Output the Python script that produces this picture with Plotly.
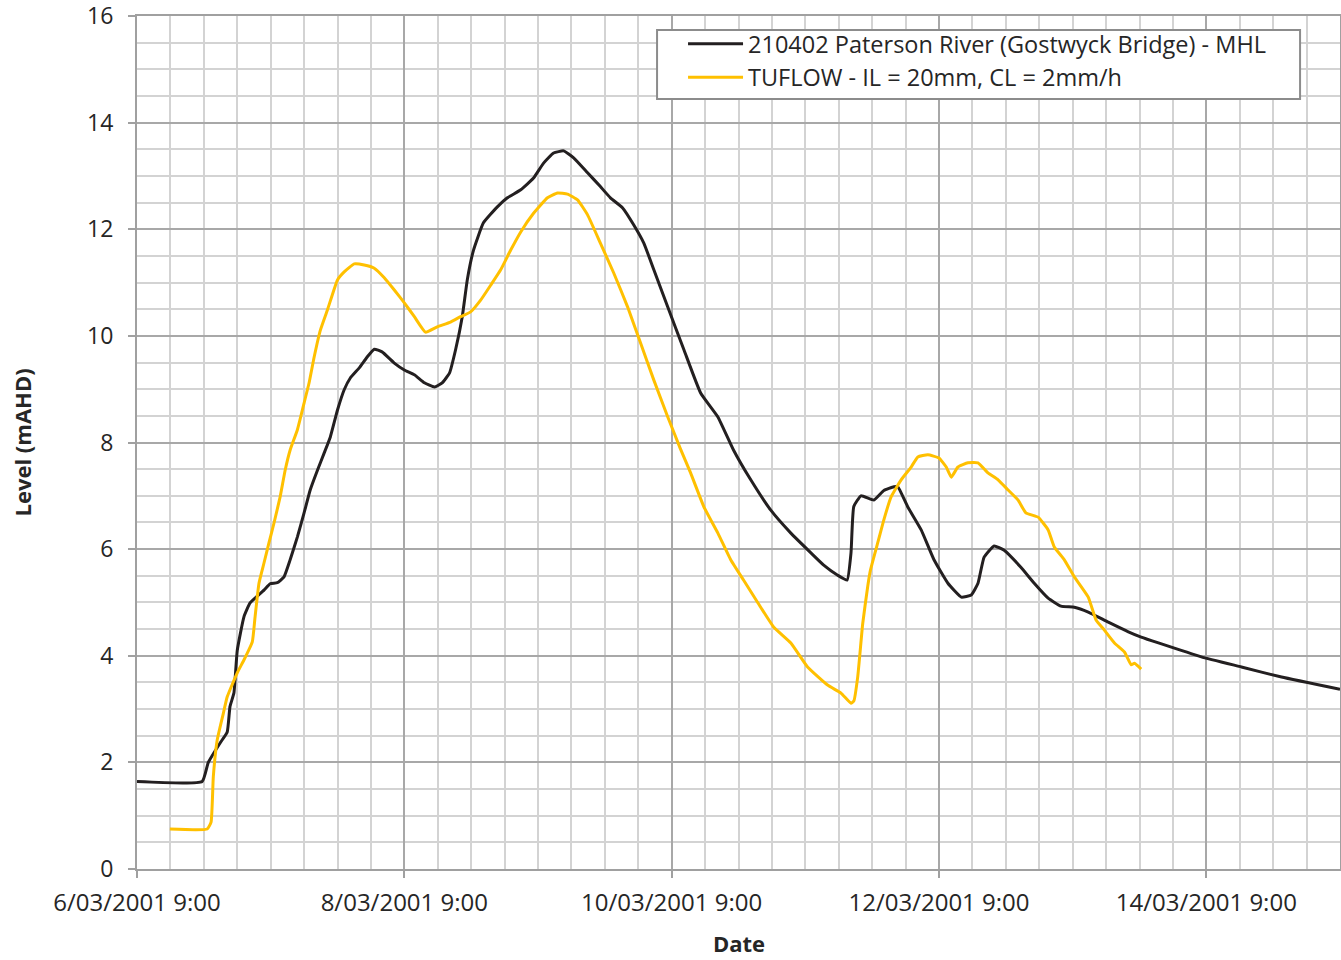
import pandas as pd
import plotly.graph_objects as go

START = pd.Timestamp("2001-03-06 09:00")
END = pd.Timestamp("2001-03-15 09:00")

# Observed gauge: hours after 6/03/2001 9:00, level (mAHD)
obs_hours = [0, 11.7, 12.8, 14.9, 16.2, 16.7, 17.4, 18.0, 19.2, 20.3, 22.8, 23.9, 25.2,
             26.4, 27.5, 28.8, 30.0, 31.1, 32.4, 33.6, 34.7, 36.0, 37.2, 38.3, 39.9,
             41.3, 42.6, 44.0, 46.2, 48.0, 49.8, 51.6, 53.4, 54.8, 56.1, 57.2, 58.4,
             59.3, 60.4, 62.2, 64.7, 66.5, 68.9, 71.2, 73.0, 74.8, 76.6, 78.4, 80.9,
             83.2, 85.0, 87.2, 89.2, 91.0, 92.8, 95.3, 98.2, 101.2, 104.3, 107.1,
             110.2, 113.8, 117.4, 121.0, 123.3, 125.8, 127.5, 128.2, 128.7, 130.0,
             132.3, 134.1, 135.9, 136.6, 138.4, 140.8, 143.1, 145.6, 148.0, 149.8,
             151.0, 152.1, 153.9, 155.7, 158.7, 161.1, 163.6, 165.9, 168.3, 170.8,
             174.4, 178.0, 180.3, 183.4, 191.1, 198.3, 205.5, 216.0]
obs_level = [1.64, 1.64, 2.0, 2.36, 2.57, 3.05, 3.3, 4.1, 4.73, 4.99, 5.23, 5.35, 5.37,
             5.48, 5.8, 6.23, 6.68, 7.11, 7.48, 7.8, 8.1, 8.61, 8.99, 9.21, 9.4,
             9.6, 9.75, 9.7, 9.49, 9.36, 9.27, 9.12, 9.04, 9.12, 9.3, 9.74, 10.36,
             11.05, 11.6, 12.12, 12.42, 12.59, 12.74, 12.96, 13.24, 13.43, 13.47, 13.34, 13.06,
             12.8, 12.59, 12.4, 12.08, 11.74, 11.24, 10.54, 9.74, 8.93, 8.48, 7.86,
             7.3, 6.73, 6.3, 5.93, 5.7, 5.51, 5.42, 5.93, 6.8, 7.0,
             6.92, 7.1, 7.17, 7.17, 6.79, 6.36, 5.8, 5.36, 5.1, 5.14,
             5.36, 5.85, 6.06, 5.98, 5.66, 5.36, 5.08, 4.93, 4.91, 4.82,
             4.63, 4.45, 4.35, 4.24, 3.98, 3.79, 3.6, 3.37]

# TUFLOW model: hours after 6/03/2001 9:00, level (mAHD)
sim_hours = [5.9, 12.6, 13.3, 13.7, 14.4, 15.5, 16.2, 18.0, 19.2, 20.7, 21.2, 21.9, 22.8,
             23.7, 24.6, 25.7, 26.6, 27.5, 28.8, 30.0, 30.9, 31.8, 32.9, 34.2, 36.0,
             37.2, 39.0, 40.8, 42.6, 44.4, 46.2, 48.0, 49.8, 51.8, 53.9, 56.3, 58.1,
             59.9, 61.7, 63.5, 65.3, 67.1, 68.9, 71.2, 73.7, 75.5, 77.3, 79.1, 80.9,
             83.2, 85.6, 88.1, 90.4, 92.8, 95.3, 97.5, 99.4, 101.8, 104.3, 106.6, 108.9,
             111.5, 114.3, 117.4, 120.4, 124.0, 126.4, 128.2, 128.7, 129.4, 130.3,
             131.2, 131.7, 133.0, 134.1, 135.4, 137.2, 139.0, 140.2, 142.0, 144.0,
             145.3, 146.2, 147.4, 149.2, 151.0, 152.8, 154.6, 156.4, 158.2, 159.6,
             161.8, 163.6, 164.7, 166.5, 168.3, 170.8, 172.2, 173.7, 175.5, 177.3,
             178.5, 179.1, 180.3]
sim_level = [0.75, 0.75, 0.88, 1.73, 2.42, 2.92, 3.23, 3.68, 3.92, 4.26, 4.73, 5.36, 5.74,
             6.12, 6.49, 6.98, 7.48, 7.86, 8.24, 8.74, 9.12, 9.6, 10.1, 10.49, 11.05,
             11.2, 11.35, 11.33, 11.27, 11.09, 10.86, 10.62, 10.36, 10.07, 10.17, 10.26, 10.36,
             10.45, 10.67, 10.95, 11.24, 11.61, 11.95, 12.3, 12.59, 12.68, 12.66, 12.55, 12.27,
             11.74, 11.18, 10.54, 9.87, 9.17, 8.48, 7.9, 7.43, 6.79, 6.3, 5.8, 5.42,
             4.99, 4.54, 4.24, 3.79, 3.45, 3.3, 3.11, 3.15, 3.6, 4.6,
             5.3, 5.61, 6.12, 6.55, 6.98, 7.3, 7.54, 7.73, 7.77, 7.71,
             7.54, 7.35, 7.54, 7.62, 7.62, 7.43, 7.3, 7.11, 6.92, 6.68,
             6.6, 6.36, 6.04, 5.8, 5.48, 5.1, 4.67, 4.48, 4.24, 4.07,
             3.83, 3.86, 3.75]

x_tick_vals = ["2001-03-06 09:00", "2001-03-08 09:00", "2001-03-10 09:00",
               "2001-03-12 09:00", "2001-03-14 09:00"]
x_tick_text = ["6/03/2001 9:00", "8/03/2001 9:00", "10/03/2001 9:00",
               "12/03/2001 9:00", "14/03/2001 9:00"]
y_tick_vals = [0, 2, 4, 6, 8, 10, 12, 14, 16]

obs_names = "210402 Paterson River (Gostwyck Bridge) - MHL"
sim_names = "TUFLOW - IL = 20mm, CL = 2mm/h"

obs_t = START + pd.to_timedelta(obs_hours, unit="h")
sim_t = START + pd.to_timedelta(sim_hours, unit="h")

FONT = "Open Sans, Noto Sans, sans-serif"
TXT = "#262626"

fig = go.Figure()
fig.add_trace(go.Scatter(x=obs_t, y=obs_level, mode="lines", name=obs_names,
                         line=dict(color="#231f20", width=3, shape="spline", smoothing=0.4)))
fig.add_trace(go.Scatter(x=sim_t, y=sim_level, mode="lines", name=sim_names,
                         line=dict(color="#FFC000", width=3, shape="spline", smoothing=0.4)))

fig.update_layout(
    width=1341, height=960,
    margin=dict(l=137, r=1, t=16, b=91, autoexpand=False),
    paper_bgcolor="white", plot_bgcolor="white",
    font=dict(family=FONT, size=24, color=TXT),
    showlegend=True,
    legend=dict(x=0.4539, y=0.993, xanchor="left", yanchor="top",
                bgcolor="rgba(0,0,0,0)", borderwidth=0,
                font=dict(size=23.5, color=TXT), itemwidth=55,
                tracegroupgap=0),
    # legend frame
    shapes=[dict(type="rect", xref="paper", yref="paper",
                 x0=0.4323, x1=0.9668, y0=0.9027, y1=0.9836,
                 fillcolor="white", line=dict(color="#8c8c8c", width=2),
                 layer="above")],
    xaxis=dict(type="date", range=[START, END], automargin=False,
               tickmode="array", tickvals=x_tick_vals, ticktext=x_tick_text,
               ticks="outside", ticklen=7, tickcolor="#a0a0a0", tickwidth=2,
               showline=True, linecolor="#a0a0a0", linewidth=2, mirror=True,
               showgrid=True, gridcolor="#a8a8a8", gridwidth=1.5,
               minor=dict(dtick=6 * 3600 * 1000, tick0=START, showgrid=True,
                          gridcolor="#d3d3d3", gridwidth=1.5),
               zeroline=False, tickfont=dict(size=24), ticklabelstandoff=4,
               ticklabeloverflow="allow"),
    yaxis=dict(range=[0, 16], tickmode="array", tickvals=y_tick_vals, automargin=False,
               ticks="outside", ticklen=7, tickcolor="#a0a0a0", tickwidth=2,
               showline=True, linecolor="#a0a0a0", linewidth=2, mirror=True,
               showgrid=True, gridcolor="#a8a8a8", gridwidth=1.5,
               minor=dict(dtick=0.5, showgrid=True, gridcolor="#d3d3d3", gridwidth=1.5),
               zeroline=False, tickfont=dict(size=23), ticklabelstandoff=10,
               ticklabeloverflow="allow"),
    annotations=[
        dict(text="<b>Level (mAHD)</b>", xref="paper", yref="paper", x=-0.0956, y=0.5,
             xanchor="center", yanchor="middle", textangle=-90, showarrow=False,
             font=dict(size=22, color=TXT)),
        dict(text="<b>Date</b>", xref="paper", yref="paper", x=0.5, y=-0.0868,
             xanchor="center", yanchor="middle", showarrow=False,
             font=dict(size=22, color=TXT)),
    ],
)

# remove the default page margin so the figure fills the window exactly
fig.write_html("out.html", config={"displayModeBar": False},
               post_script="document.body.style.margin='0';document.body.style.overflow='hidden';")
